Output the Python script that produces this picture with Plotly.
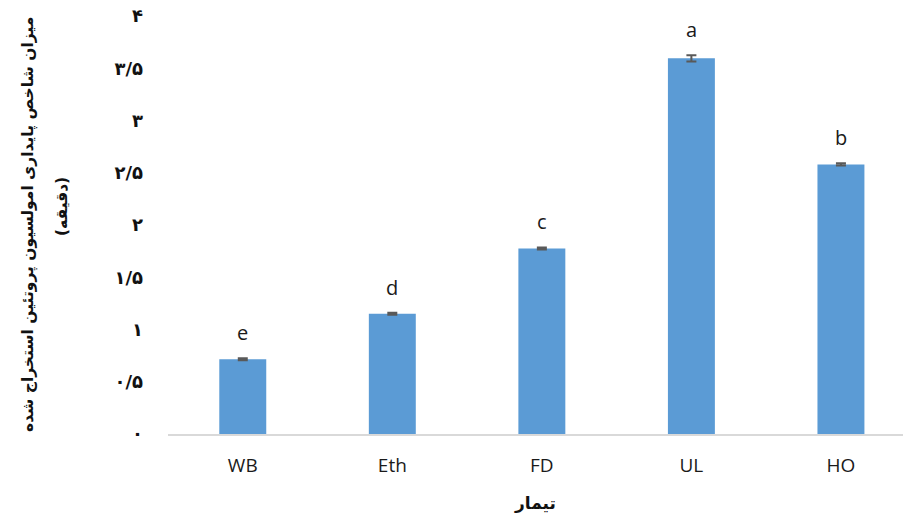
import plotly.graph_objects as go

# Treatments and measured emulsion stability index (minutes)
treatments = ["WB", "Eth", "FD", "UL", "HO"]
stability = [0.715, 1.15, 1.775, 3.595, 2.58]
std_err = [0.01, 0.01, 0.01, 0.03, 0.01]
groups = ["e", "d", "c", "a", "b"]

# Persian-digit tick labels for the value axis
y_ticks = [0, 0.5, 1, 1.5, 2, 2.5, 3, 3.5, 4]
y_tick_text = ["۰", "۰/۵", "۱", "۱/۵", "۲", "۲/۵", "۳", "۳/۵", "۴"]

y_title_1 = "میزان شاخص پایداری امولسیون پروتئین استخراج شده"
y_title_2 = "(دقیقه)"
x_title = "تیمار"

LATIN = "Open Sans"
PERSIAN = "DejaVu Sans"

W, H = 903, 519
ML, MR, MT, MB = 168, 0, 16, 85
plot_w = W - ML - MR
plot_h = H - MT - MB


def px_to_paper_x(px):
    return (px - ML) / plot_w


def px_to_paper_y(py):
    return (H - MB - py) / plot_h


fig = go.Figure()
fig.add_trace(go.Bar(
    x=treatments,
    y=stability,
    marker=dict(color="#5b9bd5", line=dict(width=0)),
    error_y=dict(type="data", array=std_err, color="#595959",
                 thickness=2, width=5),
    showlegend=False,
))

# Significance letters above each bar
for cat, val, err, g in zip(treatments, stability, std_err, groups):
    fig.add_annotation(
        x=cat, y=val + err, text=g, showarrow=False,
        yanchor="bottom", yshift=10,
        font=dict(family=LATIN, size=20, color="#1a1a1a"),
    )

# Two-line rotated value-axis title
fig.add_annotation(
    xref="paper", yref="paper",
    x=px_to_paper_x(28), y=px_to_paper_y(225),
    text=y_title_1, textangle=-90, showarrow=False,
    xanchor="center", yanchor="middle",
    font=dict(family=PERSIAN, size=15.5, color="#111111", weight="bold"),
)
fig.add_annotation(
    xref="paper", yref="paper",
    x=px_to_paper_x(62), y=px_to_paper_y(207),
    text=y_title_2, textangle=-90, showarrow=False,
    xanchor="center", yanchor="middle",
    font=dict(family=PERSIAN, size=15.5, color="#111111", weight="bold"),
)

# Category-axis title
fig.add_annotation(
    xref="paper", yref="paper",
    x=px_to_paper_x(535), y=px_to_paper_y(503),
    text=x_title, showarrow=False,
    xanchor="center", yanchor="middle",
    font=dict(family=PERSIAN, size=17, color="#111111", weight="bold"),
)

fig.update_layout(
    width=W, height=H,
    margin=dict(l=ML, r=MR, t=MT, b=MB, autoexpand=False),
    paper_bgcolor="white", plot_bgcolor="white",
    bargap=0.686,
)
fig.update_xaxes(
    type="category",
    range=[-0.5, 4.415],
    showline=True, linecolor="#d9d9d9", linewidth=1.5,
    showgrid=False, ticks="", zeroline=False,
    tickfont=dict(family=LATIN, size=19, color="#1a1a1a"),
    ticklabelstandoff=13,
)
fig.update_yaxes(
    range=[0, 4],
    tickvals=y_ticks, ticktext=y_tick_text,
    showline=False, showgrid=False, zeroline=False, ticks="",
    tickfont=dict(family=PERSIAN, size=18, color="#111111", weight="bold"),
    ticklabelstandoff=24,
)

fig.write_html("out.html")
